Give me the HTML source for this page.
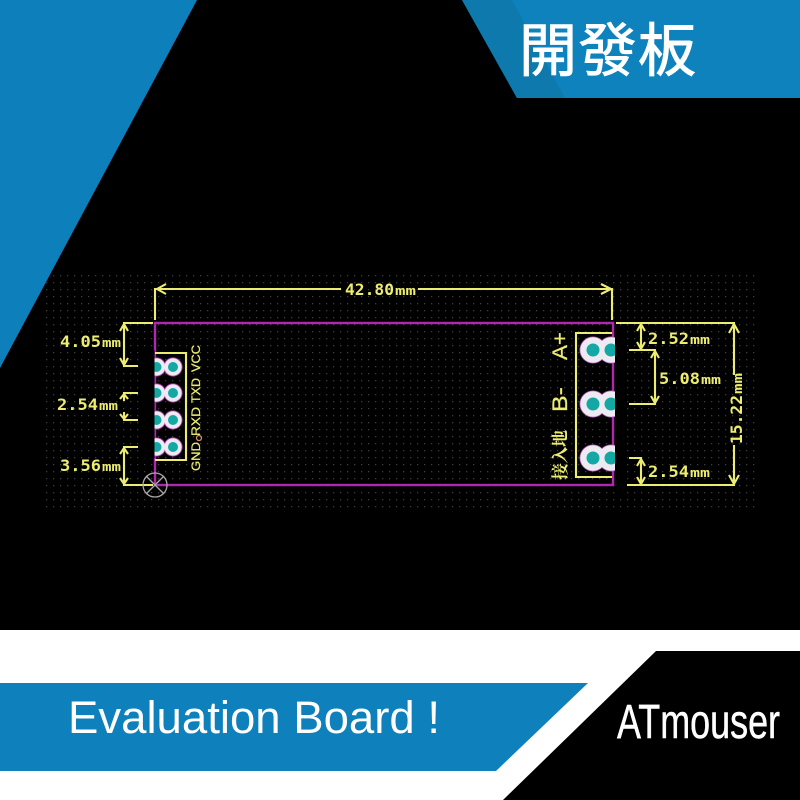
<!DOCTYPE html>
<html><head><meta charset="utf-8"><style>
html,body{margin:0;padding:0;background:#000}
svg{display:block}
.d{font-family:"DejaVu Sans Mono","Liberation Mono",monospace;font-weight:bold;fill:#ecec70;font-size:16px}
.m{font-family:"DejaVu Sans Mono","Liberation Mono",monospace;font-weight:bold;fill:#ecec70;font-size:12px}
.r{font-family:"Liberation Sans",sans-serif;fill:#ecec70;stroke:#ecec70;stroke-width:.25}
</style></head><body>
<svg width="800" height="800" viewBox="0 0 800 800" xmlns="http://www.w3.org/2000/svg">
<defs>
<pattern id="g" x="46" y="275" width="7" height="7" patternUnits="userSpaceOnUse"><rect width="1.3" height="1.3" fill="#3c3c3c"/></pattern>
<g id="p"><circle cx="0" cy="0" r="13.5" fill="#b060b8"/><circle cx="18" cy="0" r="13.5" fill="#b060b8"/><circle cx="0" cy="0" r="12.7" fill="#eeeaf2"/><circle cx="18" cy="0" r="12.7" fill="#eeeaf2"/><circle cx="0" cy="0" r="6.5" fill="#14a8a4"/><circle cx="18" cy="0" r="6.5" fill="#14a8a4"/></g>
<g id="q"><circle cx="0" cy="0" r="9.6" fill="#a838a8"/><circle cx="16.5" cy="0" r="9.6" fill="#a838a8"/><circle cx="0" cy="0" r="8.7" fill="#eeeaf2"/><circle cx="16.5" cy="0" r="8.7" fill="#eeeaf2"/><circle cx="0" cy="0" r="5" fill="#14a8a4"/><circle cx="16.5" cy="0" r="5" fill="#14a8a4"/></g>
</defs>
<rect width="800" height="800" fill="#000"/>
<rect x="46" y="275" width="710" height="235" fill="url(#g)"/>
<polygon points="0,0 197,0 0,368" fill="#0d80bb"/>
<polygon points="462,0 800,0 800,98 517,98" fill="#0e82bc"/>
<polygon points="462,0 512,0 565,98 517,98" fill="#0e79ad"/>
<rect x="0" y="630" width="800" height="170" fill="#fff"/>
<polygon points="0,683 588,683 496,771 0,771" fill="#0e80bb"/>
<polygon points="656,651 800,651 800,800 503,800" fill="#000"/>

<rect x="155" y="323" width="458" height="162" fill="none" stroke="#b028b0" stroke-width="2.4"/>

<g fill="none" stroke="#ecec70" stroke-width="2.1">
<path d="M155 320V289H341M418 289H612V320"/>
<path d="M166 284L157 289L166 294M601 284L611 289L601 294"/>
<path d="M153 323H124V366H138M120 331L124 324L128 331M120 358L124 365L128 358"/>
<path d="M138 393H124V401M124 412V420H138M120 399L124 394L128 399M120 414L124 419L128 414"/>
<path d="M138 447H124V485H153M120 454L124 448L128 454M120 478L124 484L128 478"/>
<path d="M155 353H186V460H155"/>
<path d="M612 333H576V477H612"/>
<path d="M616 323H734V375M734 445V485H627M729 333L734 324L739 333M729 475L734 484L739 475"/>
<path d="M641 323V350M629 350H655V404H629M637 331L641 324L645 331M637 342L641 349L645 342M651 358L655 351L659 358M651 396L655 403L659 396"/>
<path d="M629 458H641V485M637 466L641 459L645 466M637 477L641 484L645 477"/>
</g>

<use href="#q" x="156.5" y="367"/><use href="#q" x="156.5" y="393"/><use href="#q" x="156.5" y="420"/><use href="#q" x="156.5" y="447"/>
<rect x="140" y="350" width="14.5" height="108" fill="#000"/>

<use href="#p" x="593" y="350"/><use href="#p" x="593" y="404"/><use href="#p" x="593" y="458"/>
<rect x="615" y="328" width="12" height="170" fill="#000"/>

<g fill="none" stroke="#a8a8a8" stroke-width="1.3"><circle cx="155" cy="485" r="12"/><path d="M146 476L164 494M164 476L146 494"/></g>
<circle cx="199" cy="438" r="2.5" fill="none" stroke="#d89070" stroke-width="1.3"/>

<text class="d" x="345" y="295" textLength="49" lengthAdjust="spacingAndGlyphs">42.80</text><text class="m" x="395" y="295" textLength="21" lengthAdjust="spacingAndGlyphs">mm</text>
<text class="d" x="60" y="347" textLength="41" lengthAdjust="spacingAndGlyphs">4.05</text><text class="m" x="102" y="347" textLength="19" lengthAdjust="spacingAndGlyphs">mm</text>
<text class="d" x="57" y="410" textLength="41" lengthAdjust="spacingAndGlyphs">2.54</text><text class="m" x="99" y="410" textLength="19" lengthAdjust="spacingAndGlyphs">mm</text>
<text class="d" x="60" y="471" textLength="41" lengthAdjust="spacingAndGlyphs">3.56</text><text class="m" x="102" y="471" textLength="19" lengthAdjust="spacingAndGlyphs">mm</text>
<text class="d" x="648" y="344" textLength="41" lengthAdjust="spacingAndGlyphs">2.52</text><text class="m" x="690" y="344" textLength="20" lengthAdjust="spacingAndGlyphs">mm</text>
<text class="d" x="659" y="384" textLength="41" lengthAdjust="spacingAndGlyphs">5.08</text><text class="m" x="701" y="384" textLength="20" lengthAdjust="spacingAndGlyphs">mm</text>
<text class="d" x="648" y="477" textLength="41" lengthAdjust="spacingAndGlyphs">2.54</text><text class="m" x="690" y="477" textLength="20" lengthAdjust="spacingAndGlyphs">mm</text>
<text class="d" transform="translate(742,444) rotate(-90)" textLength="49" lengthAdjust="spacingAndGlyphs">15.22</text><text class="m" transform="translate(742,394) rotate(-90)" textLength="21" lengthAdjust="spacingAndGlyphs">mm</text>

<text class="r" transform="translate(200,471) rotate(-90)" font-size="12" textLength="29" lengthAdjust="spacingAndGlyphs">GND</text>
<text class="r" transform="translate(200,436) rotate(-90)" font-size="12" textLength="29" lengthAdjust="spacingAndGlyphs">RXD</text>
<text class="r" transform="translate(200,403) rotate(-90)" font-size="12" textLength="25" lengthAdjust="spacingAndGlyphs">TXD</text>
<text class="r" transform="translate(200,372) rotate(-90)" font-size="12" textLength="27" lengthAdjust="spacingAndGlyphs">VCC</text>
<text class="r" transform="translate(567,360) rotate(-90)" font-size="21" textLength="28" lengthAdjust="spacingAndGlyphs">A+</text>
<text class="r" transform="translate(567,412) rotate(-90)" font-size="21" textLength="25" lengthAdjust="spacingAndGlyphs">B-</text>
<text transform="translate(566,480) rotate(-90)" font-family="'Liberation Sans','Noto Serif CJK SC',sans-serif" font-size="17" font-weight="bold" fill="#ecec70" textLength="50">接入地</text>

<text x="519" y="71" font-family="'Liberation Sans','Noto Sans CJK TC',sans-serif" font-weight="400" font-size="58" fill="#fff" stroke="#fff" stroke-width="0.9" textLength="177">開發板</text>
<text x="68" y="733" font-family="'Liberation Sans','DejaVu Sans',sans-serif" font-size="45" fill="#fff" textLength="372" lengthAdjust="spacingAndGlyphs">Evaluation Board !</text>
<text x="617" y="738" font-family="'Liberation Sans',sans-serif" font-size="48" fill="#fff" stroke="#fff" stroke-width="0.5" textLength="163" lengthAdjust="spacingAndGlyphs">ATmouser</text>
</svg>
</body></html>
